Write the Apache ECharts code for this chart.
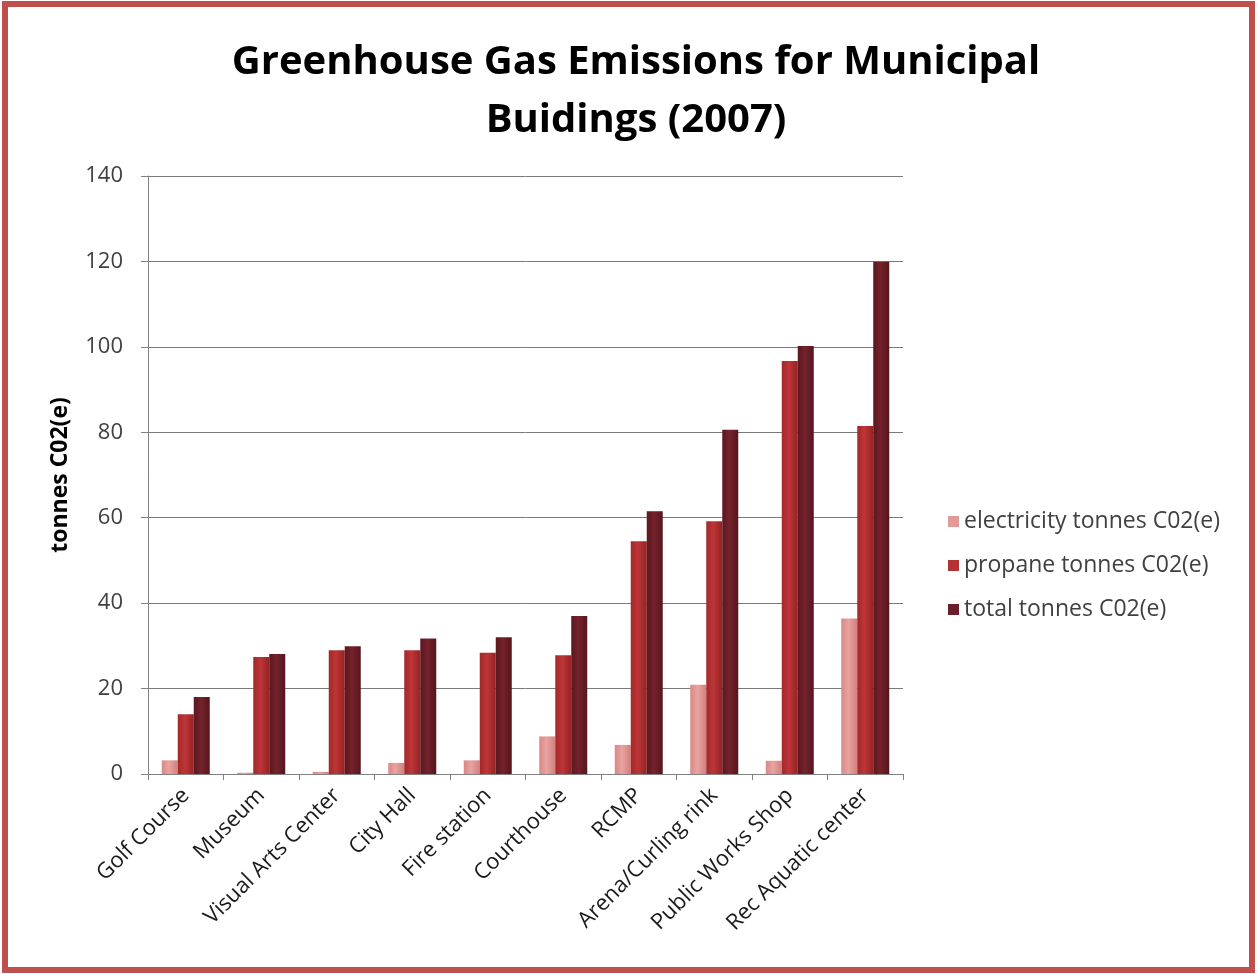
<!DOCTYPE html>
<html>
<head>
<meta charset="utf-8">
<script src="https://cdn.jsdelivr.net/npm/echarts@6/dist/echarts.min.js"></script>
<style>
html,body{margin:0;padding:0;background:#fff;}
#chart{width:1257px;height:974px;}
</style>
</head>
<body>
<div id="chart"></div>
<script>
const titleText = 'Greenhouse Gas Emissions for Municipal\nBuidings (2007)';
const yAxisName = 'tonnes C02(e)';
const categories = ['Golf Course','Museum','Visual Arts Center','City Hall','Fire station','Courthouse','RCMP','Arena/Curling rink','Public Works Shop','Rec Aquatic center'];
const seriesNames = ['electricity tonnes C02(e)','propane tonnes C02(e)','total tonnes C02(e)'];
const electricity = [3.2, 0.3, 0.5, 2.6, 3.2, 8.8, 6.8, 20.9, 3.1, 36.4];
const propane = [14.0, 27.4, 29.0, 29.0, 28.4, 27.8, 54.5, 59.2, 96.7, 81.5];
const total = [18.0, 28.1, 29.9, 31.7, 32.0, 37.0, 61.5, 80.6, 100.2, 119.9];
const yTicks = {min: 0, max: 140, interval: 20};

function grad(c1, c2, c3) {
  return new echarts.graphic.LinearGradient(0, 0, 1, 0, [
    {offset: 0, color: c1}, {offset: 0.45, color: c2}, {offset: 1, color: c3}
  ]);
}
const colors = [
  grad('#d98886', '#e8a3a1', '#d2807e'),
  grad('#a42829', '#bd3637', '#952223'),
  grad('#5a181e', '#75222c', '#56161c')
];
const legendColors = ['#e29a98', '#b33233', '#6a1f28'];
const seriesData = [electricity, propane, total];

const chart = echarts.init(document.getElementById('chart'), null, {renderer: 'canvas'});
const font = "'Open Sans', sans-serif";
chart.setOption({
  backgroundColor: '#ffffff',
  animation: false,
  textStyle: {fontFamily: font},
  title: {
    text: titleText,
    left: 631, textAlign: 'center', top: 29,
    textStyle: {fontFamily: font, fontSize: 40, fontWeight: 'bold', color: '#000', lineHeight: 58}
  },
  legend: {
    orient: 'vertical', left: 943, top: 505,
    itemWidth: 11, itemHeight: 11, itemGap: 21,
    icon: 'rect',
    textStyle: {fontFamily: font, fontSize: 23, color: '#404040'},
    data: seriesNames.map((n, i) => ({name: n, itemStyle: {color: legendColors[i]}}))
  },
  grid: {left: 148, top: 176, width: 755, height: 598, containLabel: false},
  xAxis: {
    type: 'category', data: categories,
    axisLine: {lineStyle: {color: '#808080', width: 1}},
    axisTick: {show: true, length: 6, lineStyle: {color: '#808080'}},
    axisLabel: {rotate: 45, fontFamily: font, fontSize: 22, color: '#1a1a1a', margin: 18, interval: 0}
  },
  yAxis: {
    type: 'value', min: yTicks.min, max: yTicks.max, interval: yTicks.interval,
    name: yAxisName, nameLocation: 'middle', nameGap: 76, nameRotate: 90,
    nameTextStyle: {fontFamily: font, fontSize: 23, fontWeight: 'bold', color: '#000'},
    axisLine: {show: true, lineStyle: {color: '#808080', width: 1}},
    axisTick: {show: true, length: 7, lineStyle: {color: '#808080'}},
    axisLabel: {fontFamily: font, fontSize: 22, color: '#404040', margin: 25},
    splitLine: {lineStyle: {color: '#7a7a7a', width: 1}}
  },
  series: seriesNames.map((n, i) => ({
    name: n, type: 'bar', data: seriesData[i],
    barWidth: 16, barGap: '0%',
    itemStyle: {color: colors[i]}
  })),
  graphic: [{
    type: 'rect', silent: true, z: 100,
    shape: {x: 5, y: 4, width: 1247, height: 966},
    style: {fill: 'none', stroke: '#c0504d', lineWidth: 6}
  }]
});
</script>
</body>
</html>
